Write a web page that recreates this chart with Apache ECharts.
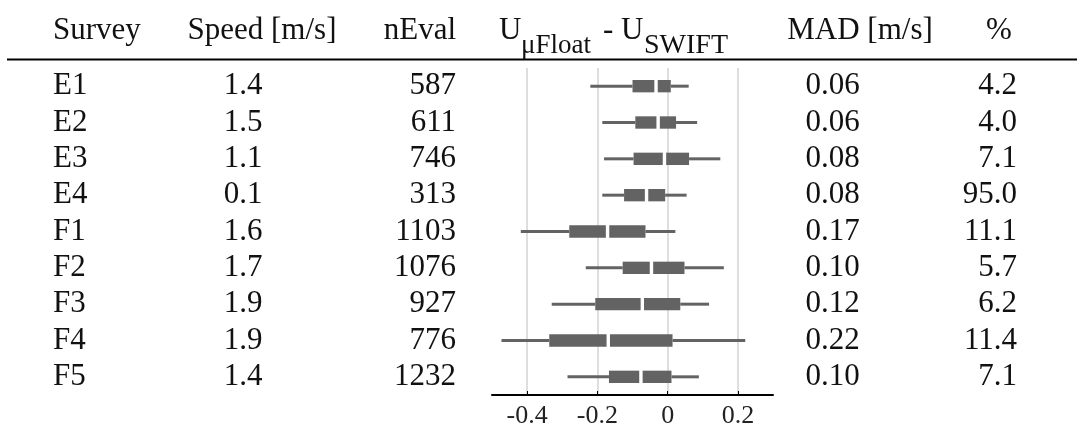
<!DOCTYPE html>
<html>
<head>
<meta charset="utf-8">
<script src="https://cdn.jsdelivr.net/npm/echarts@6/dist/echarts.min.js"></script>
<style>
html,body{margin:0;padding:0;background:#fff;}
#chart{width:1077px;height:429px;}
</style>
</head>
<body>
<div id="chart"></div>
<script>
// ---- data ----
const surveys = ['E1','E2','E3','E4','F1','F2','F3','F4','F5'];
const speeds = [1.4, 1.5, 1.1, 0.1, 1.6, 1.7, 1.9, 1.9, 1.4];
const nEval = [587, 611, 746, 313, 1103, 1076, 927, 776, 1232];
const mad = [0.06, 0.06, 0.08, 0.08, 0.17, 0.10, 0.12, 0.22, 0.10];
const pct = [4.2, 4.0, 7.1, 95.0, 11.1, 5.7, 6.2, 11.4, 7.1];
// difference U_muFloat - U_SWIFT distribution per survey
const whiskerLow  = [-0.220, -0.186, -0.181, -0.186, -0.418, -0.233, -0.330, -0.473, -0.285];
const q1          = [-0.100, -0.092, -0.097, -0.124, -0.280, -0.128, -0.206, -0.337, -0.167];
const median      = [-0.033, -0.027, -0.009, -0.060, -0.171, -0.046, -0.072, -0.169, -0.076];
const q3          = [ 0.009,  0.024,  0.061, -0.007, -0.063,  0.048,  0.036,  0.014,  0.011];
const whiskerHigh = [ 0.060,  0.084,  0.150,  0.054,  0.022,  0.160,  0.118,  0.221,  0.089];
const xTicks = [-0.4, -0.2, 0, 0.2];
const xTickLabels = ['-0.4', '-0.2', '0', '0.2'];

// ---- chart ----
const FONT = "'Liberation Serif', 'Times New Roman', serif";
const TXT = '#111';
const BOX = '#636363';

const boxData = surveys.map((s, i) => [i, whiskerLow[i], q1[i], median[i], q3[i], whiskerHigh[i]]);

const GRID_LEFT = 492, GRID_RIGHT_X = 773;

function colAxis(data, position, offset, align) {
  return {
    type: 'category', gridIndex: 0, data: data, inverse: true,
    position: position, offset: offset,
    axisLine: {show: false}, axisTick: {show: false}, splitLine: {show: false},
    axisLabel: {interval: 0, margin: 0, align: align, fontFamily: FONT, fontSize: 31, color: TXT, padding: [0, 0, 4, 0]}
  };
}

const chart = echarts.init(document.getElementById('chart'), null, {renderer: 'canvas'});
chart.setOption({
  animation: false,
  backgroundColor: '#fff',
  grid: {left: GRID_LEFT, right: 1077 - GRID_RIGHT_X, top: 68, bottom: 32, containLabel: false},
  xAxis: {
    type: 'value', min: -0.5, max: 0.3,
    axisLine: {show: true, lineStyle: {color: '#000', width: 2}},
    axisTick: {show: true, inside: true, length: 4, customValues: xTicks, lineStyle: {color: '#000', width: 1}},
    axisLabel: {customValues: xTicks, margin: 8, fontFamily: FONT, fontSize: 26, color: '#222',
      formatter: function (v) { const k = xTicks.findIndex(t => Math.abs(t - v) < 1e-9); return k >= 0 ? xTickLabels[k] : ''; }},
    splitLine: {show: true, lineStyle: {color: '#dedede', width: 2}}
  },
  yAxis: [
    colAxis(surveys, 'left', GRID_LEFT - 53, 'left'),
    colAxis(speeds.map(v => v.toFixed(1)), 'left', GRID_LEFT - 243, 'center'),
    colAxis(nEval.map(String), 'left', GRID_LEFT - 456, 'right'),
    colAxis(mad.map(v => v.toFixed(2)), 'right', 832.5 - GRID_RIGHT_X, 'center'),
    colAxis(pct.map(v => v.toFixed(1)), 'right', 1017 - GRID_RIGHT_X, 'right')
  ],
  series: [{
    type: 'custom',
    xAxisIndex: 0, yAxisIndex: 0,
    data: boxData,
    encode: {x: [1, 2, 3, 4, 5], y: 0},
    renderItem: function (params, api) {
      const yi = api.value(0);
      const pLo = api.coord([api.value(1), yi]);
      const pQ1 = api.coord([api.value(2), yi]);
      const pMd = api.coord([api.value(3), yi]);
      const pQ3 = api.coord([api.value(4), yi]);
      const pHi = api.coord([api.value(5), yi]);
      const band = api.size([0, 1])[1];
      const h = band * 0.34;
      const cy = pMd[1];
      const gap = 1.7;
      return {
        type: 'group',
        children: [
          {type: 'line', shape: {x1: pLo[0], y1: cy, x2: pQ1[0], y2: cy}, style: {stroke: BOX, lineWidth: 3}},
          {type: 'line', shape: {x1: pQ3[0], y1: cy, x2: pHi[0], y2: cy}, style: {stroke: BOX, lineWidth: 3}},
          {type: 'rect', shape: {x: pQ1[0], y: cy - h / 2, width: pMd[0] - gap - pQ1[0], height: h}, style: {fill: BOX}},
          {type: 'rect', shape: {x: pMd[0] + gap, y: cy - h / 2, width: pQ3[0] - pMd[0] - gap, height: h}, style: {fill: BOX}}
        ]
      };
    }
  }],
  graphic: [
    {type: 'line', shape: {x1: 7, y1: 59.5, x2: 1077, y2: 59.5}, style: {stroke: '#000', lineWidth: 2}},
    {type: 'text', x: 53, y: 31, style: {text: 'Survey', font: '31px ' + FONT, fill: TXT, align: 'left', verticalAlign: 'middle'}},
    {type: 'text', x: 262, y: 31, style: {text: 'Speed [m/s]', font: '31px ' + FONT, fill: TXT, align: 'center', verticalAlign: 'middle'}},
    {type: 'text', x: 456, y: 31, style: {text: 'nEval', font: '31px ' + FONT, fill: TXT, align: 'right', verticalAlign: 'middle'}},
    {type: 'text', x: 499, y: 31, style: {text: 'U', font: '31px ' + FONT, fill: TXT, align: 'left', verticalAlign: 'middle'}},
    {type: 'text', x: 521, y: 46, style: {text: 'μFloat', font: '27px ' + FONT, fill: TXT, align: 'left', verticalAlign: 'middle'}},
    {type: 'text', x: 603, y: 31, style: {text: '-', font: '31px ' + FONT, fill: TXT, align: 'left', verticalAlign: 'middle'}},
    {type: 'text', x: 621, y: 31, style: {text: 'U', font: '31px ' + FONT, fill: TXT, align: 'left', verticalAlign: 'middle'}},
    {type: 'text', x: 644, y: 46, style: {text: 'SWIFT', font: '28px ' + FONT, fill: TXT, align: 'left', verticalAlign: 'middle'}},
    {type: 'text', x: 860, y: 31, style: {text: 'MAD [m/s]', font: '31px ' + FONT, fill: TXT, align: 'center', verticalAlign: 'middle'}},
    {type: 'text', x: 999, y: 31, style: {text: '%', font: '31px ' + FONT, fill: TXT, align: 'center', verticalAlign: 'middle'}}
  ]
});
</script>
</body>
</html>
